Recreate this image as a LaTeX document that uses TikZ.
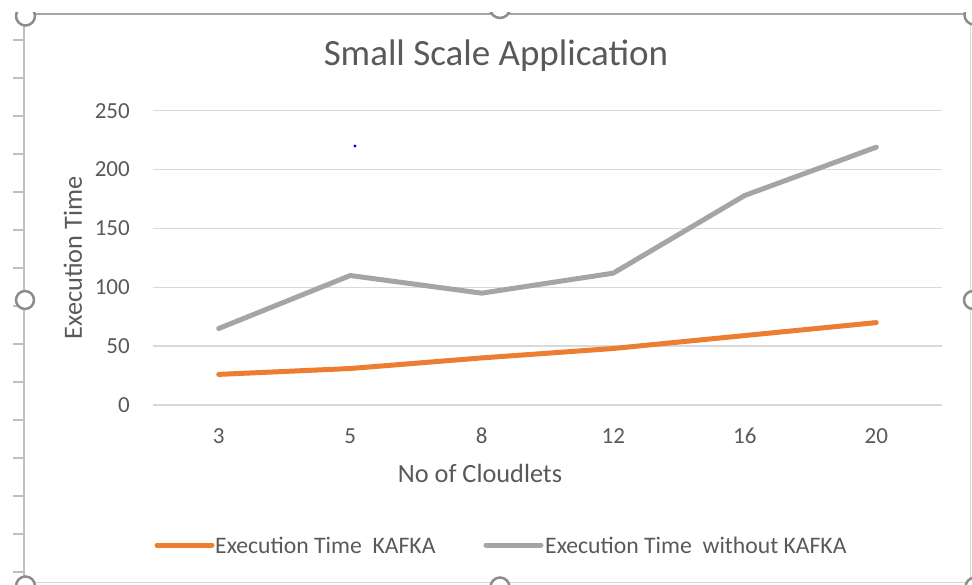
\documentclass[tikz,border=0pt]{standalone}
\usepackage{fontspec}
\setmainfont{Carlito}
\definecolor{txtgray}{HTML}{595959}
\definecolor{gridgray}{HTML}{D9D9D9}
\definecolor{kafkaorange}{HTML}{ED7D31}
\definecolor{nokafkagray}{HTML}{A5A5A5}
\definecolor{framegray}{HTML}{A6A6A6}
\definecolor{rulergray}{HTML}{BFBFBF}
\definecolor{handlegray}{HTML}{8C8C8C}
\newcommand\ticksz{\fontsize{23}{27}\selectfont}
\newcommand\legsz{\fontsize{23.7}{27}\selectfont}
\newcommand\axsz{\fontsize{26.3}{30}\selectfont}
\newcommand\ttlsz{\fontsize{37}{41}\selectfont}
\begin{document}
\begin{tikzpicture}[x=1pt,y=-1pt,
  txt/.style={text=txtgray, inner sep=0pt},
  gridline/.style={draw=gridgray, line width=1.3pt},
  series/.style={line width=5pt, line cap=round, line join=round},
  handle/.style={draw=handlegray, fill=white, line width=2.5pt},
  rulertick/.style={draw=rulergray, line width=1.2pt}]
\useasboundingbox (0,0) rectangle (972,584);
% frame
\draw[rulergray, line width=2.4pt] (24,14) -- (24,584);
\draw[framegray, line width=2pt] (24,14) -- (966,14);
\draw[gridgray, line width=1pt] (970.5,14) -- (970.5,584);
\draw[gridgray, line width=1pt] (24,582.5) -- (972,582.5);
% ruler ticks
\foreach \k in {0,...,14} {
  \draw[rulertick] (13,{40+38*\k}) -- (24,{40+38*\k});
}
% gridlines and y labels
\foreach \v in {0,50,100,150,200,250} {
  \draw[gridline] (153,{405-1.1772*\v}) -- (942,{405-1.1772*\v});
  \node[txt, anchor=east, font=\ticksz] (y\v) at (130,{405-1.1772*\v}) {\v};
}
% category labels
\foreach \c/\x in {3/218.75,5/350.25,8/481.75,12/613.25,16/744.75,20/876.25} {
  \node[txt, font=\ticksz] (c\c) at (\x,436) {\c};
}
% titles
\node[txt, font=\ttlsz] (title) at (496,56) {Small Scale Application};
\node[txt, font=\axsz] (xtitle) at (480,473) {No of Cloudlets};
\node[txt, font=\axsz, rotate=90] (ytitle) at (73,258) {Execution Time};
% data coordinates
\coordinate (k1) at (218.75,{405-1.1772*26});
\coordinate (k2) at (350.25,{405-1.1772*31});
\coordinate (k3) at (481.75,{405-1.1772*40});
\coordinate (k4) at (613.25,{405-1.1772*48});
\coordinate (k5) at (744.75,{405-1.1772*59});
\coordinate (k6) at (876.25,{405-1.1772*70});
\coordinate (w1) at (218.75,{405-1.1772*65});
\coordinate (w2) at (350.25,{405-1.1772*110});
\coordinate (w3) at (481.75,{405-1.1772*95});
\coordinate (w4) at (613.25,{405-1.1772*112});
\coordinate (w5) at (744.75,{405-1.1772*178});
\coordinate (w6) at (876.25,{405-1.1772*219});
\draw[series, nokafkagray] (w1) -- (w2) -- (w3) -- (w4) -- (w5) -- (w6);
\draw[series, kafkaorange] (k1) -- (k2) -- (k3) -- (k4) -- (k5) -- (k6);
% stray blue dot
\fill[blue] (355,146) circle (1.7);
% legend
\coordinate (la1) at (157,545);
\coordinate (la2) at (212,545);
\draw[series, kafkaorange] (la1) -- (la2);
\node[txt, anchor=west, font=\legsz] (leg1) at (215,545) {Execution Time\ \ KAFKA};
\coordinate (lb1) at (486,545);
\coordinate (lb2) at (541,545);
\draw[series, nokafkagray] (lb1) -- (lb2);
\node[txt, anchor=west, font=\legsz] (leg2) at (545,545) {Execution Time\ \ without KAFKA};
% selection handles
\begin{scope}
\clip (0,12) rectangle (972,584);
\draw[handle] (25.5,16) circle (9.5);
\draw[handle] (500,8) circle (10);
\draw[handle] (974,15) circle (9.5);
\draw[handle] (25,300) circle (9);
\draw[handle] (973,300) circle (9);
\draw[handle] (25.5,586) circle (9.5);
\draw[handle] (500,587) circle (9.5);
\draw[handle] (975,587) circle (9.5);
\end{scope}
\end{tikzpicture}
\end{document}
